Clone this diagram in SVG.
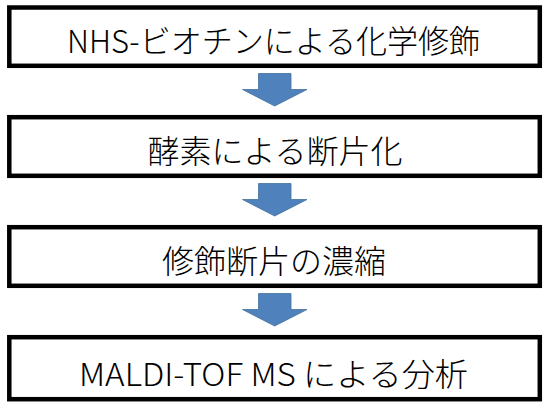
<svg xmlns="http://www.w3.org/2000/svg" width="550" height="403" viewBox="0 0 550 403">
<style>
.box{fill:#ffffff;stroke:#000000;stroke-width:4.5}
.lbl{font-family:"Noto Sans CJK JP","Noto Sans",sans-serif;font-size:32px;font-weight:300;fill:#000000;text-anchor:middle}
.arr{fill:#4f81bd;stroke:#41719c;stroke-width:0.8}
</style>
<rect width="550" height="403" fill="#ffffff"/>
<g id="connectors">
<path class="arr" d="M258.5,73.5 H291 V89.5 H307 L274.7,106 L242.5,89.5 H258.5 Z"/>
<path class="arr" d="M258.5,183.5 H291 V199.5 H307 L274.7,216 L242.5,199.5 H258.5 Z"/>
<path class="arr" d="M258.5,293.5 H291 V309.5 H307 L274.7,326 L242.5,309.5 H258.5 Z"/>
</g>
<g id="node1">
<rect class="box" x="9.3" y="7.5" width="530.5" height="58.3"/>
<text class="lbl" x="273.5" y="52.5" textLength="413" lengthAdjust="spacingAndGlyphs">NHS-ビオチンによる化学修飾</text>
</g>
<g id="node2">
<rect class="box" x="9.3" y="117.2" width="530.5" height="58.6"/>
<text class="lbl" x="275" y="162.5">酵素による断片化</text>
</g>
<g id="node3">
<rect class="box" x="9.3" y="227.2" width="530.5" height="58.6"/>
<text class="lbl" x="274" y="272.5">修飾断片の濃縮</text>
</g>
<g id="node4">
<rect class="box" x="9.3" y="337.2" width="530.5" height="62"/>
<text class="lbl" x="273.5" y="386" textLength="389" lengthAdjust="spacingAndGlyphs">MALDI-TOF MS による分析</text>
</g>
</svg>
